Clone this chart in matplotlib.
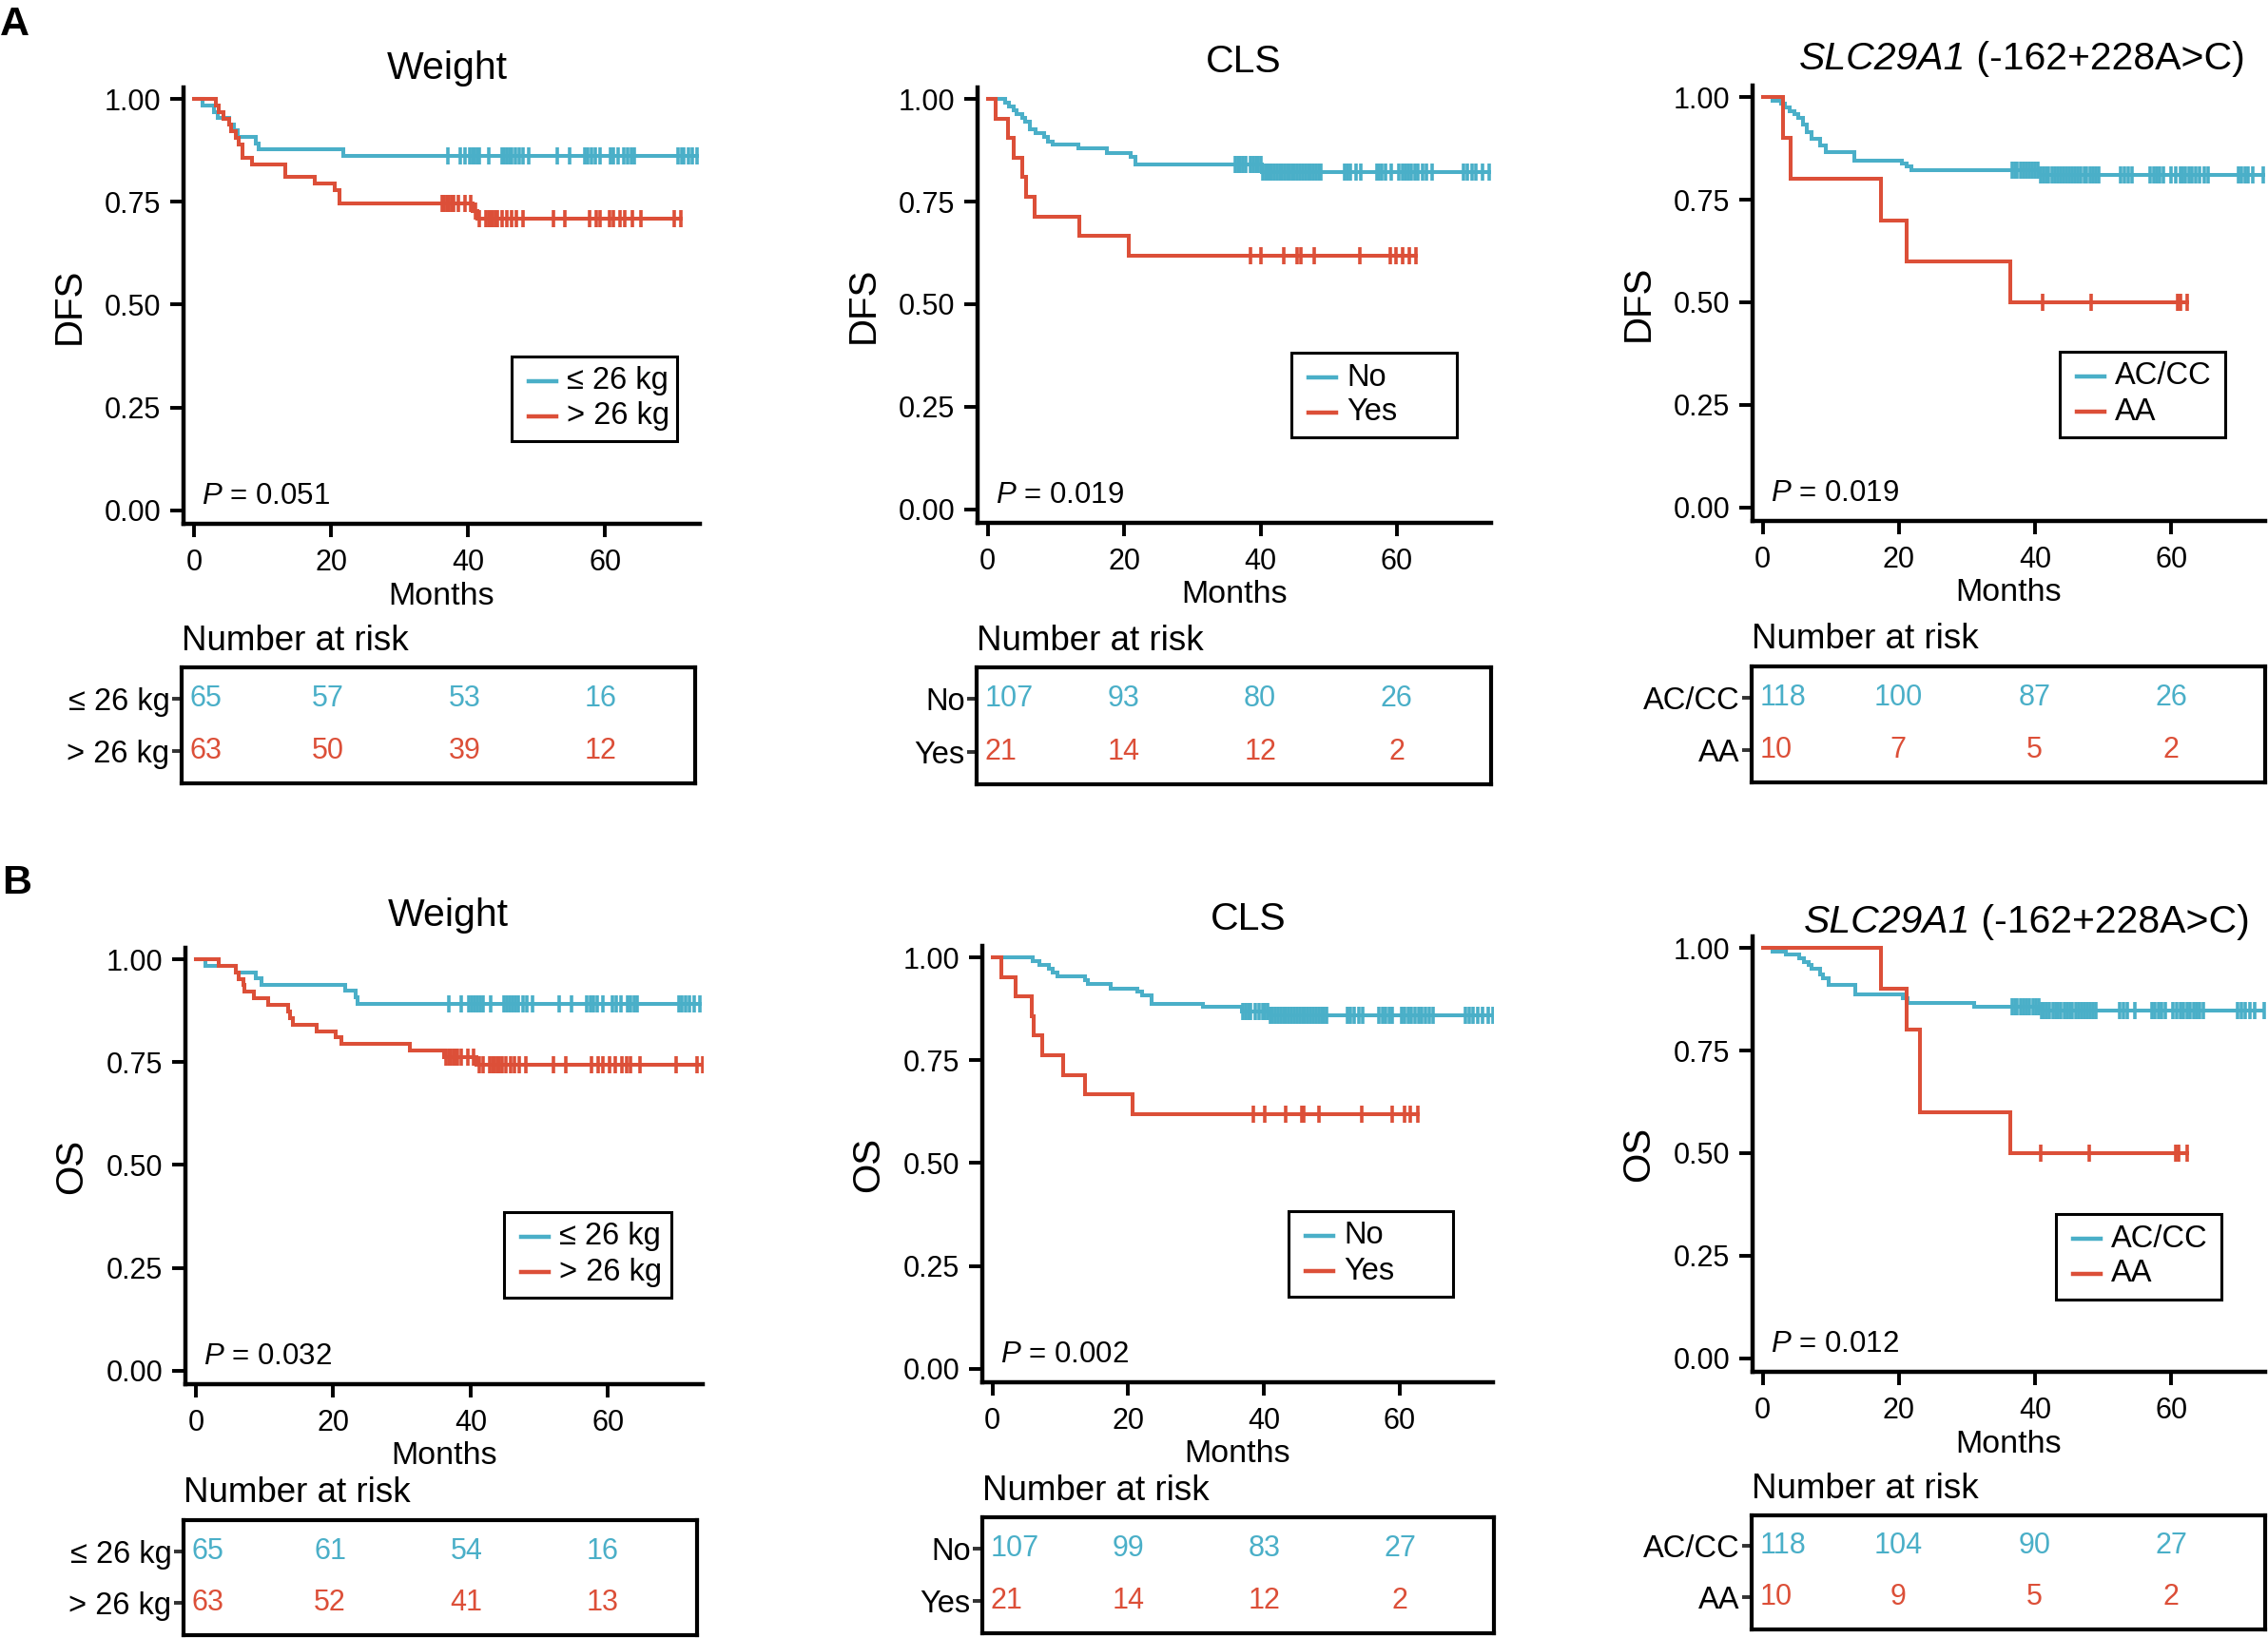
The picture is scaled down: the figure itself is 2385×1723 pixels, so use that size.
import numpy as np
import matplotlib
matplotlib.use('Agg')
import matplotlib.pyplot as plt
from matplotlib.patches import Rectangle
from matplotlib.lines import Line2D

plt.rcParams['font.family'] = ['Liberation Sans', 'DejaVu Sans']
plt.rcParams['mathtext.fontset'] = 'custom'
plt.rcParams['mathtext.rm'] = 'Liberation Sans'
plt.rcParams['mathtext.it'] = 'Liberation Sans:italic'

BLUE = '#4AAFC8'
RED = '#DC4F38'

# ---- data ----
risk_times = [0, 20, 40, 60]

# A: DFS, weight
dfs_wt_lo_t = [1.3, 3.0, 3.5, 5.2, 5.9, 6.4, 9.0, 9.5, 21.8]
dfs_wt_lo_s = [0.985, 0.969, 0.954, 0.938, 0.923, 0.908, 0.892, 0.877, 0.862]
dfs_wt_lo_c = [37.1, 38.8, 39.6, 40.3, 40.6, 40.9, 41.3, 41.6, 43.0, 44.9, 45.3, 45.7, 46.0, 46.3,
               46.9, 47.4, 48.0, 48.9, 53.0, 54.8, 57.0, 57.5, 58.0, 58.5, 59.2, 60.7, 61.2, 61.9,
               62.7, 63.3, 63.8, 64.3, 70.6, 71.1, 71.5, 72.1, 72.7, 73.4]
dfs_wt_hi_t = [3.2, 3.7, 4.3, 5.1, 5.5, 6.1, 6.5, 7.1, 8.5, 13.4, 17.7, 20.5, 21.3, 40.6, 41.3]
dfs_wt_hi_s = [0.984, 0.968, 0.952, 0.937, 0.921, 0.905, 0.889, 0.857, 0.841, 0.810, 0.794,
               0.778, 0.746, 0.727, 0.708]
dfs_wt_hi_c = [36.2, 36.5, 36.9, 37.2, 37.6, 37.9, 38.6, 39.6, 40.4, 41.1, 41.6, 42.6, 43.0, 43.3,
               43.6, 44.0, 44.3, 45.0, 45.7, 46.3, 47.0, 48.0, 52.4, 54.1, 57.7, 58.7, 59.3, 60.6,
               61.2, 62.2, 62.9, 63.9, 65.2, 70.0, 71.0]
dfs_wt_risk_lo = [65, 57, 53, 16]
dfs_wt_risk_hi = [63, 50, 39, 12]

# A: DFS, CLS
dfs_cls_no_t = [2.6, 3.1, 3.8, 4.2, 5.0, 5.5, 6.2, 7.0, 8.2, 8.8, 9.5, 13.3, 17.4, 20.9, 21.6, 40.2]
dfs_cls_no_s = [0.991, 0.981, 0.972, 0.963, 0.953, 0.944, 0.925, 0.916, 0.907, 0.897, 0.888,
                0.879, 0.869, 0.860, 0.841, 0.822]
dfs_cls_no_c = [36.3, 36.7, 37.0, 37.4, 37.8, 38.5, 39.0, 39.4, 39.7, 40.0, 40.4, 40.7, 41.0, 41.3,
                41.6, 42.0, 42.4, 42.8, 43.1, 43.5, 43.9, 44.3, 44.7, 45.0, 45.4, 45.8, 46.2, 46.6,
                47.0, 47.3, 47.7, 48.1, 48.5, 48.9, 52.3, 52.8, 53.2, 54.0, 54.7, 57.0, 57.4, 57.8,
                58.3, 59.1, 60.3, 60.8, 61.2, 61.7, 62.1, 62.6, 63.1, 63.8, 64.3, 65.1, 69.8, 70.3,
                71.0, 71.6, 72.5, 73.5]
dfs_cls_yes_t = [1.1, 3.0, 3.8, 5.0, 5.6, 6.8, 13.4, 20.7]
dfs_cls_yes_s = [0.952, 0.905, 0.857, 0.810, 0.762, 0.714, 0.667, 0.619]
dfs_cls_yes_c = [38.5, 40.0, 43.4, 45.4, 45.9, 47.9, 54.6, 59.0, 59.8, 60.8, 61.8, 62.8]
dfs_cls_risk_no = [107, 93, 80, 26]
dfs_cls_risk_yes = [21, 14, 12, 2]

# A: DFS, SLC29A1
dfs_slc_ac_t = [1.4, 2.7, 3.3, 4.0, 4.6, 5.2, 5.9, 6.5, 7.1, 8.4, 9.3, 13.4, 20.5, 21.2, 21.9, 40.6]
dfs_slc_ac_s = [0.992, 0.983, 0.975, 0.966, 0.958, 0.949, 0.932, 0.915, 0.898, 0.881, 0.866,
                0.846, 0.838, 0.830, 0.822, 0.811]
dfs_slc_ac_c = [36.6, 37.0, 37.4, 37.9, 38.3, 38.8, 39.2, 39.6, 40.0, 40.4, 40.8, 41.2, 41.6, 42.0,
                42.5, 42.9, 43.3, 43.7, 44.2, 44.6, 45.0, 45.4, 45.9, 46.3, 46.7, 47.2, 47.6, 48.1,
                48.5, 48.9, 49.3, 52.5, 53.1, 53.7, 54.3, 56.9, 57.4, 57.9, 58.3, 58.8, 60.0, 60.6,
                61.3, 61.6, 62.1, 62.6, 63.1, 63.6, 64.2, 64.8, 65.4, 69.9, 70.3, 70.8, 71.3, 72.0,
                73.5]
dfs_slc_aa_t = [3.0, 4.1, 17.3, 21.2, 36.4]
dfs_slc_aa_s = [0.9, 0.8, 0.7, 0.6, 0.5]
dfs_slc_aa_c = [41.1, 48.2, 61.0, 61.3, 62.4]
dfs_slc_risk_ac = [118, 100, 87, 26]
dfs_slc_risk_aa = [10, 7, 5, 2]

# B: OS, weight
os_wt_lo_t = [1.4, 5.9, 8.8, 9.6, 21.8, 23.3, 23.5]
os_wt_lo_s = [0.985, 0.969, 0.954, 0.938, 0.923, 0.908, 0.892]
os_wt_lo_c = [36.9, 38.6, 39.7, 40.2, 40.6, 41.0, 41.4, 41.8, 43.0, 44.9, 45.3, 45.7, 46.1, 46.5,
              47.0, 47.6, 48.2, 49.0, 52.9, 54.7, 56.9, 57.4, 57.9, 58.4, 59.2, 60.6, 61.2, 61.9,
              62.8, 63.3, 63.8, 64.3, 70.3, 70.8, 71.3, 71.9, 72.6, 73.4]
os_wt_hi_t = [3.4, 5.8, 6.3, 6.9, 7.1, 8.5, 10.5, 13.4, 13.7, 14.1, 17.6, 20.4, 21.2, 31.1, 36.2, 40.8]
os_wt_hi_s = [0.984, 0.968, 0.952, 0.937, 0.921, 0.905, 0.889, 0.873, 0.857, 0.841, 0.825,
              0.810, 0.794, 0.778, 0.762, 0.743]
os_wt_hi_c = [36.4, 36.8, 37.1, 37.5, 37.8, 38.1, 38.6, 39.6, 40.4, 41.3, 41.8, 42.8, 43.2, 43.5,
              43.9, 44.2, 44.6, 45.2, 45.8, 46.4, 47.1, 48.1, 52.1, 53.8, 57.6, 58.6, 59.3, 60.3,
              61.0, 62.0, 62.7, 63.3, 64.7, 69.9, 73.0, 73.8]
os_wt_risk_lo = [65, 61, 54, 16]
os_wt_risk_hi = [63, 52, 41, 13]

# B: OS, CLS
os_cls_no_t = [5.9, 6.9, 8.3, 8.9, 9.6, 13.6, 14.1, 17.5, 21.4, 22.0, 23.4, 31.1, 36.8, 40.9]
os_cls_no_s = [0.991, 0.981, 0.972, 0.963, 0.953, 0.944, 0.935, 0.925, 0.916, 0.907, 0.888,
               0.879, 0.869, 0.860]
os_cls_no_c = [36.9, 37.3, 37.7, 38.1, 38.8, 39.3, 39.8, 40.2, 40.6, 41.0, 41.3, 41.7, 42.1, 42.5,
               42.9, 43.3, 43.7, 44.1, 44.5, 44.9, 45.3, 45.7, 46.1, 46.5, 46.9, 47.3, 47.7, 48.1,
               48.5, 48.9, 49.3, 52.3, 52.8, 53.3, 54.0, 54.6, 57.0, 57.5, 58.0, 58.5, 59.0, 60.3,
               60.8, 61.3, 61.8, 62.3, 62.8, 63.3, 63.8, 64.4, 65.0, 69.8, 70.3, 70.9, 71.5, 72.3,
               73.1, 73.8]
os_cls_yes_t = [1.3, 3.4, 5.8, 6.1, 7.3, 10.4, 13.6, 20.7]
os_cls_yes_s = [0.952, 0.905, 0.857, 0.810, 0.762, 0.714, 0.667, 0.619]
os_cls_yes_c = [38.5, 40.2, 43.3, 45.6, 45.9, 48.1, 54.5, 58.9, 60.7, 61.6, 62.7]
os_cls_risk_no = [107, 99, 83, 27]
os_cls_risk_yes = [21, 14, 12, 2]

# B: OS, SLC29A1
os_slc_ac_t = [1.5, 3.4, 5.4, 6.0, 6.8, 7.2, 8.4, 8.8, 9.7, 13.6, 20.6, 21.3, 31.1, 40.6]
os_slc_ac_s = [0.992, 0.983, 0.975, 0.966, 0.958, 0.949, 0.936, 0.927, 0.909, 0.887, 0.878,
               0.865, 0.856, 0.847]
os_slc_ac_c = [36.6, 37.0, 37.4, 37.9, 38.3, 38.8, 39.2, 39.7, 40.1, 40.5, 40.9, 41.3, 41.7, 42.1,
               42.6, 43.0, 43.4, 43.8, 44.3, 44.7, 45.1, 45.5, 46.0, 46.4, 46.8, 47.3, 47.7, 48.1,
               48.5, 48.9, 52.4, 53.0, 53.6, 54.6, 57.2, 57.6, 58.1, 58.6, 59.1, 60.3, 60.8, 61.3,
               61.8, 62.3, 62.8, 63.3, 63.8, 64.2, 64.7, 69.8, 70.3, 70.9, 71.5, 72.3, 73.6]
os_slc_aa_t = [17.4, 21.1, 23.1, 36.3]
os_slc_aa_s = [0.9, 0.8, 0.6, 0.5]
os_slc_aa_c = [40.8, 48.0, 60.6, 61.1, 62.3]
os_slc_risk_ac = [118, 104, 90, 27]
os_slc_risk_aa = [10, 9, 5, 2]

# title: (italic part, upright part)
titles = [('', 'Weight'), ('', 'CLS'), ('SLC29A1', ' (-162+228A>C)')]
labels_wt = ['\u2264 26 kg', '> 26 kg']
labels_cls = ['No', 'Yes']
labels_slc = ['AC/CC', 'AA']
pvals = ['0.051', '0.019', '0.019', '0.032', '0.002', '0.012']

W, H = 2385, 1723
fig = plt.figure(figsize=(W / 100, H / 100), dpi=100)
renderer = fig.canvas.get_renderer()


def rect(l, t, r, b):
    return [l / W, 1 - b / H, (r - l) / W, (b - t) / H]


def ftxt(x, y, s, **kw):
    return fig.text(x / W, 1 - y / H, s, **kw)


def title_text(cx, y, parts, size):
    it_part, up_part = parts
    t1 = ftxt(0, y, it_part, fontsize=size, style='italic', ha='left', va='baseline')
    t2 = ftxt(0, y, up_part, fontsize=size, ha='left', va='baseline')
    w1 = t1.get_window_extent(renderer).width if it_part else 0
    w2 = t2.get_window_extent(renderer).width
    left = cx - (w1 + w2) / 2
    t1.set_x(left / W)
    t2.set_x((left + w1) / W)


def km(ax, t, s, c, color):
    end = max(c)
    xs = [0] + list(t) + [end]
    ys = [1] + list(s) + [s[-1]]
    ax.step(xs, ys, where='post', color=color, lw=2.9, solid_joinstyle='miter')
    t_arr = np.array(t)
    cy = []
    for ci in c:
        k = np.searchsorted(t_arr, ci, side='right')
        cy.append(1.0 if k == 0 else s[k - 1])
    ax.plot(c, cy, ls='none', marker='|', ms=13, mew=2.6, color=color)


panels = [
    dict(ylab='DFS', title=titles[0], labels=labels_wt, p=pvals[0],
         g1=(dfs_wt_lo_t, dfs_wt_lo_s, dfs_wt_lo_c), g2=(dfs_wt_hi_t, dfs_wt_hi_s, dfs_wt_hi_c),
         r1=dfs_wt_risk_lo, r2=dfs_wt_risk_hi,
         box=(193, 92, 736, 551), tab=(191, 702, 731, 824), tt=(470, 83), leg=(538, 375, 712, 464)),
    dict(ylab='DFS', title=titles[1], labels=labels_cls, p=pvals[1],
         g1=(dfs_cls_no_t, dfs_cls_no_s, dfs_cls_no_c), g2=(dfs_cls_yes_t, dfs_cls_yes_s, dfs_cls_yes_c),
         r1=dfs_cls_risk_no, r2=dfs_cls_risk_yes,
         box=(1028, 92, 1568, 550), tab=(1027, 702, 1568, 825), tt=(1308, 76), leg=(1358, 371, 1532, 460)),
    dict(ylab='DFS', title=titles[2], labels=labels_slc, p=pvals[2],
         g1=(dfs_slc_ac_t, dfs_slc_ac_s, dfs_slc_ac_c), g2=(dfs_slc_aa_t, dfs_slc_aa_s, dfs_slc_aa_c),
         r1=dfs_slc_risk_ac, r2=dfs_slc_risk_aa,
         box=(1843, 90, 2382, 548), tab=(1842, 701, 2382, 823), tt=(2126, 73), leg=(2166, 370, 2340, 460)),
    dict(ylab='OS', title=titles[0], labels=labels_wt, p=pvals[3],
         g1=(os_wt_lo_t, os_wt_lo_s, os_wt_lo_c), g2=(os_wt_hi_t, os_wt_hi_s, os_wt_hi_c),
         r1=os_wt_risk_lo, r2=os_wt_risk_hi,
         box=(195, 997, 739, 1456), tab=(193, 1599, 733, 1720), tt=(471, 974), leg=(530, 1275, 706, 1365)),
    dict(ylab='OS', title=titles[1], labels=labels_cls, p=pvals[4],
         g1=(os_cls_no_t, os_cls_no_s, os_cls_no_c), g2=(os_cls_yes_t, os_cls_yes_s, os_cls_yes_c),
         r1=os_cls_risk_no, r2=os_cls_risk_yes,
         box=(1033, 995, 1570, 1454), tab=(1033, 1596, 1571, 1718), tt=(1313, 978), leg=(1355, 1274, 1528, 1364)),
    dict(ylab='OS', title=titles[2], labels=labels_slc, p=pvals[5],
         g1=(os_slc_ac_t, os_slc_ac_s, os_slc_ac_c), g2=(os_slc_aa_t, os_slc_aa_s, os_slc_aa_c),
         r1=os_slc_risk_ac, r2=os_slc_risk_aa,
         box=(1843, 985, 2382, 1443), tab=(1842, 1594, 2382, 1714), tt=(2131, 981), leg=(2162, 1277, 2336, 1367)),
]

XLIM = (-1.5, 73.8)
for pn in panels:
    l, t, r, b = pn['box']
    ax = fig.add_axes(rect(l, t, r, b))
    km(ax, *pn['g1'], BLUE)
    km(ax, *pn['g2'], RED)
    ax.set_xlim(*XLIM)
    ax.set_ylim(-0.033, 1.028)
    ax.set_xticks(risk_times)
    ax.set_yticks([0, 0.25, 0.5, 0.75, 1.0])
    ax.set_yticklabels(['0.00', '0.25', '0.50', '0.75', '1.00'])
    for sp in ['top', 'right']:
        ax.spines[sp].set_visible(False)
    for sp in ['left', 'bottom']:
        ax.spines[sp].set_linewidth(3.2)
    ax.tick_params(width=2.8, length=10, labelsize=22, pad=7)
    ax.tick_params(axis='x', pad=9)

    title_text(pn['tt'][0], pn['tt'][1], pn['title'], 29.5)
    ftxt(l - 120, (t + b) / 2, pn['ylab'], fontsize=29, rotation=90, ha='center', va='center')
    ftxt((l + r) / 2, b + 76, 'Months', fontsize=24.5, ha='center', va='center')
    ftxt(l + 19, b - 21, '$P$ = ' + pn['p'], fontsize=22.5, ha='left', va='baseline')

    # legend box
    x0, y0, x1, y1 = pn['leg']
    fig.patches.append(Rectangle((x0 / W, 1 - y1 / H), (x1 - x0) / W, (y1 - y0) / H,
                                 transform=fig.transFigure, fill=False, ec='black', lw=2.2))
    for k, (lab, col) in enumerate(zip(pn['labels'], [BLUE, RED])):
        yy = y0 + 26 + k * 37
        fig.lines.append(Line2D([(x0 + 18) / W, (x0 + 47) / W], [1 - yy / H, 1 - yy / H],
                                transform=fig.transFigure, color=col, lw=3.2))
        ftxt(x0 + 58, yy, lab, fontsize=23.5, ha='left', va='center')

    # number at risk table
    tl, tt_, tr, tb = pn['tab']
    axt = fig.add_axes(rect(tl, tt_, tr, tb))
    axt.set_xlim(*XLIM)
    axt.set_ylim(0, 1)
    axt.set_xticks([])
    axt.set_yticks([0.73, 0.28])
    axt.set_yticklabels(pn['labels'], fontsize=23.5)
    axt.tick_params(axis='y', length=7, width=2.8, color='#333333', pad=2)
    for sp in axt.spines.values():
        sp.set_linewidth(3.0)
    for yv, vals, col in [(0.73, pn['r1'], BLUE), (0.28, pn['r2'], RED)]:
        for tm, n in zip(risk_times, vals):
            if tm == 0:
                axt.text(tm - 0.3, yv, str(n), color=col, fontsize=22, ha='left', va='center')
            else:
                axt.text(tm, yv, str(n), color=col, fontsize=22, ha='center', va='center')
    ftxt(tl, tt_ - 28, 'Number at risk', fontsize=26.5, ha='left', va='center')

ftxt(0, 37, 'A', fontsize=31, fontweight='bold', ha='left', va='baseline')
ftxt(2, 940, 'B', fontsize=31, fontweight='bold', ha='left', va='baseline')

plt.savefig('out.png', dpi=100)
